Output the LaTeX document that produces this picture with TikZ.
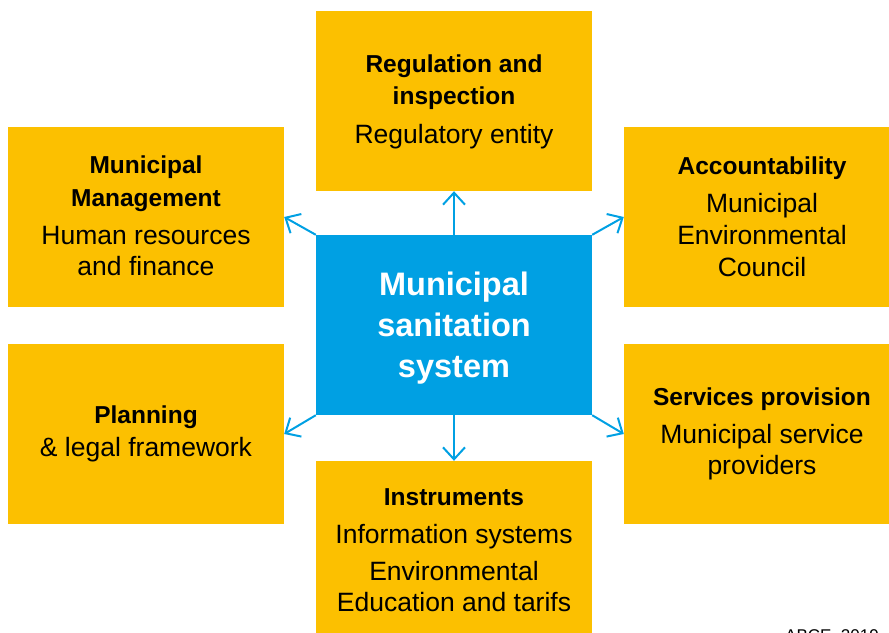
\documentclass[tikz,border=0pt]{standalone}
\usepackage{fontspec}
\setmainfont{Liberation Sans}
\usetikzlibrary{arrows.meta}
\definecolor{boxyellow}{RGB}{252,192,0}
\definecolor{sysblue}{RGB}{0,160,227}
\begin{document}
\begin{tikzpicture}[x=1pt,y=-1pt,
  box/.style={fill=boxyellow, draw=none, minimum width=276pt, minimum height=180pt, inner sep=0pt},
  hub/.style={fill=sysblue, draw=none, minimum width=276pt, minimum height=180pt, inner sep=0pt},
  ttl/.style={font=\fontsize{24.5}{30}\selectfont\bfseries, anchor=base, inner sep=0pt},
  txt/.style={font=\fontsize{26.5}{32}\selectfont, anchor=base, inner sep=0pt},
  hubtxt/.style={font=\fontsize{32.5}{40}\selectfont\bfseries, text=white, anchor=base, inner sep=0pt},
  link/.style={draw=sysblue, line width=2pt, -{Straight Barb[length=12pt,width=22pt]}}
]
\useasboundingbox (0,0) rectangle (889,632);
\clip (0,0) rectangle (889,632);

% boxes
\node[box] (top) at (454,101) {};
\node[box] (tl)  at (146,217) {};
\node[box] (tr)  at (762,217) {};
\node[box] (bl)  at (146,434) {};
\node[box] (br)  at (762,434) {};
\node[box] (bot) at (454,551) {};
\node[hub] (hub) at (454,325) {};

% connectors
\draw[link] (hub.north) -- (top.south);
\draw[link] (hub.south) -- (bot.north);
\draw[link] (hub.north west) -- (tl.east);
\draw[link] (hub.north east) -- (tr.west);
\draw[link] (hub.south west) -- (bl.east);
\draw[link] (hub.south east) -- (br.west);

% hub text
\node[hubtxt] (hub1) at (454,295) {Municipal};
\node[hubtxt] (hub2) at (454,336) {sanitation};
\node[hubtxt] (hub3) at (454,377) {system};

% top
\node[ttl] (top1) at (454,72) {Regulation and};
\node[ttl] (top2) at (454,104) {inspection};
\node[txt] (top3) at (454,143) {Regulatory entity};

% top left
\node[ttl] (tl1) at (146,173) {Municipal};
\node[ttl] (tl2) at (146,206) {Management};
\node[txt] (tl3) at (146,244) {Human resources};
\node[txt] (tl4) at (146,275) {and finance};

% top right
\node[ttl] (tr1) at (762,174) {Accountability};
\node[txt] (tr2) at (762,212) {Municipal};
\node[txt] (tr3) at (762,244) {Environmental};
\node[txt] (tr4) at (762,276) {Council};

% bottom left
\node[ttl] (bl1) at (146,423) {Planning};
\node[txt] (bl2) at (146,456) {\& legal framework};

% bottom right
\node[ttl] (br1) at (762,405) {Services provision};
\node[txt] (br2) at (762,443) {Municipal service};
\node[txt] (br3) at (762,474) {providers};

% bottom
\node[ttl] (bot1) at (454,505) {Instruments};
\node[txt] (bot2) at (454,543) {Information systems};
\node[txt] (bot3) at (454,580) {Environmental};
\node[txt] (bot4) at (454,611) {Education and tarifs};

% source (cut off at the lower edge, as in the reference)
\node[font=\fontsize{17}{20}\selectfont, anchor=base west, inner sep=0pt] (src) at (785,641) {ABCE, 2019};
\end{tikzpicture}
\end{document}
